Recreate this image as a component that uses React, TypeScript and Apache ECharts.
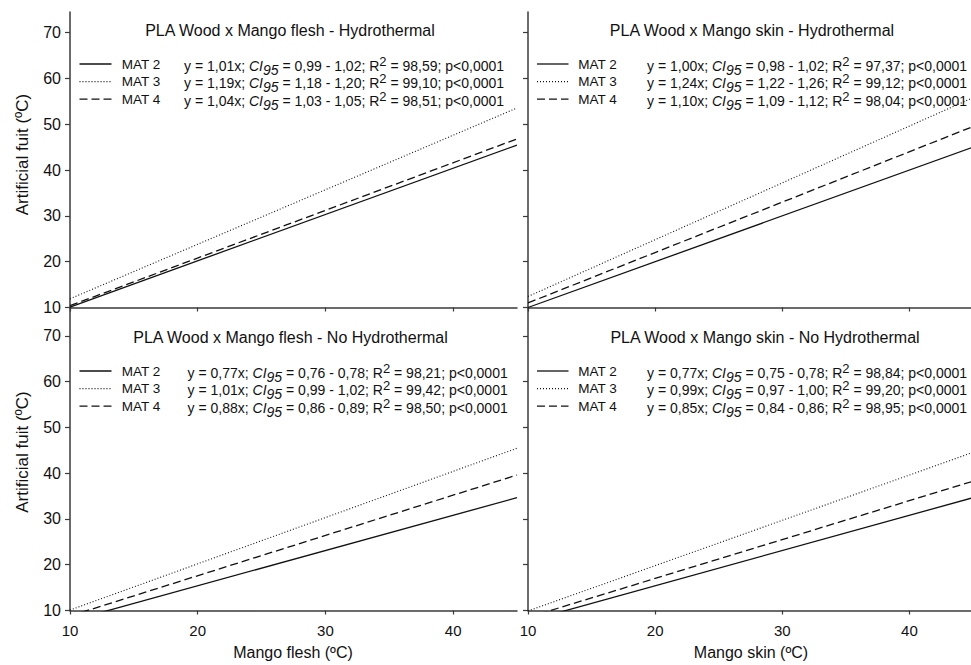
import React, { useEffect, useRef } from 'react';
import * as echarts from 'echarts';

const FONT = '"Liberation Sans", Arial, Helvetica, sans-serif';

// x positions where the fitted lines are evaluated (ends of the x axis)
const fitX = [10, 45];
const matNames = ['MAT 2', 'MAT 3', 'MAT 4'];
const xTicks = [10, 20, 30, 40];
const yTicks = [10, 20, 30, 40, 50, 60, 70];

const panelTitles = [
  'PLA Wood x Mango flesh - Hydrothermal',
  'PLA Wood x Mango skin - Hydrothermal',
  'PLA Wood x Mango flesh - No Hydrothermal',
  'PLA Wood x Mango skin - No Hydrothermal',
];
const xAxisTitles = ['Mango flesh (ºC)', 'Mango skin (ºC)'];
const yAxisTitle = 'Artificial fuit (ºC)';

// Artificial fruit temperature of each fitted line at x = 10 and x = 45
const fleshHydroMat2 = [10.1, 45.45];
const fleshHydroMat3 = [11.9, 53.55];
const fleshHydroMat4 = [10.4, 46.8];
const skinHydroMat2 = [10.0, 45.0];
const skinHydroMat3 = [12.4, 55.8];
const skinHydroMat4 = [11.0, 49.5];
const fleshNoHydroMat2 = [7.7, 34.65];
const fleshNoHydroMat3 = [10.1, 45.45];
const fleshNoHydroMat4 = [8.8, 39.6];
const skinNoHydroMat2 = [7.7, 34.65];
const skinNoHydroMat3 = [9.9, 44.55];
const skinNoHydroMat4 = [8.5, 38.25];

// regression statistics shown as text
const fleshHydroSlope = ['1,01', '1,19', '1,04'];
const fleshHydroCI = ['0,99 - 1,02', '1,18 - 1,20', '1,03 - 1,05'];
const fleshHydroR2 = ['98,59', '99,10', '98,51'];
const skinHydroSlope = ['1,00', '1,24', '1,10'];
const skinHydroCI = ['0,98 - 1,02', '1,22 - 1,26', '1,09 - 1,12'];
const skinHydroR2 = ['97,37', '99,12', '98,04'];
const fleshNoHydroSlope = ['0,77', '1,01', '0,88'];
const fleshNoHydroCI = ['0,76 - 0,78', '0,99 - 1,02', '0,86 - 0,89'];
const fleshNoHydroR2 = ['98,21', '99,42', '98,50'];
const skinNoHydroSlope = ['0,77', '0,99', '0,85'];
const skinNoHydroCI = ['0,75 - 0,78', '0,97 - 1,00', '0,84 - 0,86'];
const skinNoHydroR2 = ['98,84', '99,20', '98,95'];
const pValue = 'p<0,0001';

const panelLines = [
  [fleshHydroMat2, fleshHydroMat3, fleshHydroMat4],
  [skinHydroMat2, skinHydroMat3, skinHydroMat4],
  [fleshNoHydroMat2, fleshNoHydroMat3, fleshNoHydroMat4],
  [skinNoHydroMat2, skinNoHydroMat3, skinNoHydroMat4],
];
const panelStats = [
  [fleshHydroSlope, fleshHydroCI, fleshHydroR2],
  [skinHydroSlope, skinHydroCI, skinHydroR2],
  [fleshNoHydroSlope, fleshNoHydroCI, fleshNoHydroR2],
  [skinNoHydroSlope, skinNoHydroCI, skinNoHydroR2],
];

// layout (pixels)
const grids = [
  { left: 70, top: 12, width: 447, height: 295.5, yMax: 74.5 },
  { left: 528, top: 12, width: 445, height: 295.5, yMax: 74.5 },
  { left: 70, top: 307.5, width: 447, height: 303, yMax: 76.2 },
  { left: 528, top: 307.5, width: 445, height: 303, yMax: 76.2 },
];
const titleCenters = [
  [290, 30.5],
  [752, 30.5],
  [290.5, 337.5],
  [765, 337.5],
];
const legendLineX = [
  [79.5, 111.5],
  [537, 568.5],
  [79.5, 111.5],
  [537, 568.5],
];
const matTextX = [121.7, 578.3, 121.7, 578.3];
const eqTextX = [184, 647, 187.6, 647];
const rowY0 = [64, 64, 371, 371];
const rowStep = 17.6;
const lineTypes: any[] = ['solid', [1, 2], [8, 4]];
const lineWidths = [1.3, 1.1, 1.3];

const AXIS_COLOR = '#3a3a3a';

export default function App() {
  const ref = useRef<HTMLDivElement>(null);

  useEffect(() => {
    if (!ref.current) return;
    const chart = echarts.init(ref.current, undefined, { renderer: 'svg' });

    const gridOpt = grids.map((g) => ({
      left: g.left,
      top: g.top,
      width: g.width,
      height: g.height,
      containLabel: false,
      outerBoundsMode: 'none',
    }));

    const xAxes = grids.map((g, i) => ({
      type: 'value',
      gridIndex: i,
      min: fitX[0],
      max: fitX[1],
      interval: 10,
      axisLine: { show: true, onZero: false, lineStyle: { color: AXIS_COLOR, width: 1.5 } },
      axisTick: {
        show: true,
        inside: false,
        length: 4,
        customValues: xTicks,
        lineStyle: { color: AXIS_COLOR, width: 1.2 },
      },
      axisLabel: {
        show: i >= 2,
        customValues: xTicks,
        fontSize: 15,
        fontFamily: FONT,
        color: '#111',
        margin: 12,
      },
      splitLine: { show: false },
    }));

    const yAxes = grids.map((g, i) => ({
      type: 'value',
      gridIndex: i,
      min: 10,
      max: g.yMax,
      interval: 10,
      axisLine: { show: true, onZero: false, lineStyle: { color: AXIS_COLOR, width: 1.5 } },
      axisTick: {
        show: true,
        inside: false,
        length: 5,
        customValues: yTicks,
        lineStyle: { color: AXIS_COLOR, width: 1.2 },
      },
      axisLabel: {
        show: i % 2 === 0,
        customValues: yTicks,
        fontSize: 16,
        fontFamily: FONT,
        color: '#111',
        margin: 9,
      },
      splitLine: { show: false },
    }));

    const series: any[] = [];
    panelLines.forEach((lines, p) => {
      lines.forEach((ys, k) => {
        series.push({
          type: 'line',
          name: `${panelTitles[p]} ${matNames[k]}`,
          xAxisIndex: p,
          yAxisIndex: p,
          data: fitX.map((x, j) => [x, ys[j]]),
          symbol: 'none',
          clip: true,
          silent: true,
          lineStyle: { color: '#111', width: lineWidths[k], type: lineTypes[k] },
        });
      });
    });

    const graphic: any[] = [];
    const richStyles = {
      n: { fontSize: 14, fontFamily: FONT, fill: '#111', lineHeight: 16, padding: [0, 0, 5, 0], verticalAlign: 'bottom' },
      i: { fontSize: 14, fontFamily: FONT, fontStyle: 'italic', fill: '#111', lineHeight: 16, padding: [0, 0, 5, 0], verticalAlign: 'bottom' },
      s: { fontSize: 14, fontFamily: FONT, fontStyle: 'italic', fill: '#111', lineHeight: 16, padding: [0, 0, 1, 0], verticalAlign: 'bottom' },
      p: { fontSize: 13, fontFamily: FONT, fill: '#111', lineHeight: 16, padding: [0, 0, 10, 0], verticalAlign: 'bottom' },
    };

    panelTitles.forEach((t, p) => {
      graphic.push({
        type: 'text',
        x: titleCenters[p][0],
        y: titleCenters[p][1],
        silent: true,
        style: {
          text: t,
          fontSize: 16,
          fontFamily: FONT,
          fill: '#111',
          align: 'center',
          verticalAlign: 'middle',
        },
      });
      const [slopes, cis, r2s] = panelStats[p];
      matNames.forEach((m, k) => {
        const yRow = rowY0[p] + k * rowStep;
        graphic.push({
          type: 'line',
          silent: true,
          shape: { x1: legendLineX[p][0], y1: yRow, x2: legendLineX[p][1], y2: yRow },
          style: { stroke: '#111', lineWidth: lineWidths[k], lineDash: k === 0 ? null : lineTypes[k] },
        });
        graphic.push({
          type: 'text',
          x: matTextX[p],
          y: yRow,
          silent: true,
          style: {
            text: m,
            fontSize: 13.5,
            fontFamily: FONT,
            fill: '#111',
            align: 'left',
            verticalAlign: 'middle',
          },
        });
        const eq =
          `{n|y = ${slopes[k]}x; }{i|CI}{s|95}{n| = ${cis[k]}; R}{p|2}{n| = ${r2s[k]}; ${pValue}}`;
        graphic.push({
          type: 'text',
          x: eqTextX[p],
          y: yRow + 13.5,
          silent: true,
          style: {
            text: eq,
            rich: richStyles,
            align: 'left',
            verticalAlign: 'bottom',
          },
        });
      });
    });

    // axis titles
    graphic.push({
      type: 'text',
      x: 293,
      y: 652.5,
      silent: true,
      style: { text: xAxisTitles[0], fontSize: 16, fontFamily: FONT, fill: '#111', align: 'center', verticalAlign: 'middle' },
    });
    graphic.push({
      type: 'text',
      x: 751,
      y: 652,
      silent: true,
      style: { text: xAxisTitles[1], fontSize: 16, fontFamily: FONT, fill: '#111', align: 'center', verticalAlign: 'middle' },
    });
    [154.5, 452].forEach((cy) => {
      graphic.push({
        type: 'text',
        x: 22,
        y: cy,
        rotation: Math.PI / 2,
        silent: true,
        style: { text: yAxisTitle, fontSize: 17, fontFamily: FONT, fill: '#111', align: 'center', verticalAlign: 'middle' },
      });
    });

    chart.setOption({
      animation: false,
      backgroundColor: '#ffffff',
      grid: gridOpt,
      xAxis: xAxes,
      yAxis: yAxes,
      series,
      graphic,
    });

    return () => {
      chart.dispose();
    };
  }, []);

  return (
    <div
      ref={ref}
      style={{ position: 'absolute', left: 0, top: 0, width: 971, height: 665, background: '#fff' }}
    />
  );
}
